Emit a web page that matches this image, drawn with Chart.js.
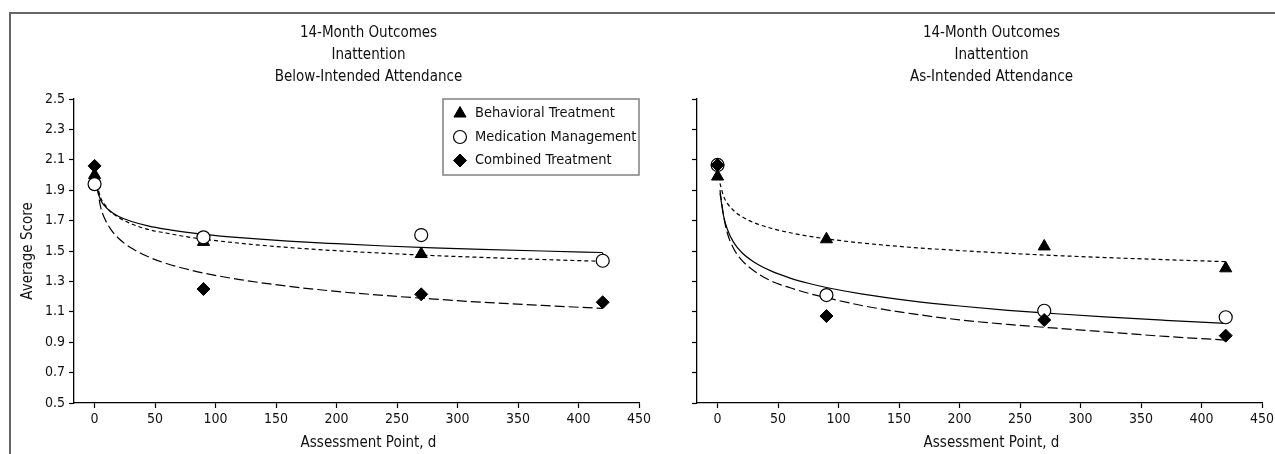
<!DOCTYPE html>
<html>
<head>
<meta charset="utf-8">
<title>14-Month Outcomes: Inattention</title>
<script src="https://cdn.jsdelivr.net/npm/chart.js@4"></script>
<style>
  html, body { margin: 0; padding: 0; background: #fff; }
  body { width: 1275px; height: 454px; position: relative; overflow: hidden; }
  .frame { position: absolute; left: 9px; top: 12px; width: 1300px; height: 470px;
           border-top: 2px solid #666; border-left: 2px solid #666; }
  canvas { position: absolute; top: 0; }
  #leftChart { left: 0; }
  #rightChart { left: 660px; }
</style>
</head>
<body>
<div class="frame"></div>
<canvas id="leftChart" width="660" height="454"></canvas>
<canvas id="rightChart" width="615" height="454"></canvas>
<script>
// Assessment points (days) and observed group means
const assessmentDays = [0, 90, 270, 420];

const belowBehavioral = [2.00, 1.56, 1.48, 1.44];
const belowMedication = [1.94, 1.59, 1.605, 1.436];
const belowCombined   = [2.06, 1.25, 1.215, 1.163];

const asBehavioral = [1.99, 1.577, 1.53, 1.386];
const asMedication = [2.066, 1.21, 1.107, 1.064];
const asCombined   = [2.066, 1.072, 1.046, 0.943];

// Fitted curves at these days
const curveDays = [2, 5, 8, 13, 20, 30, 45, 60, 75, 90, 120, 160, 200, 240, 280, 320, 370, 420];

const belowBehavioralFit = [1.94, 1.85, 1.81, 1.76, 1.72, 1.68, 1.64, 1.617, 1.595, 1.578, 1.551, 1.523, 1.502, 1.485, 1.47, 1.458, 1.444, 1.432];
const belowMedicationFit = [1.91, 1.835, 1.80, 1.761, 1.727, 1.696, 1.664, 1.642, 1.624, 1.61, 1.588, 1.565, 1.548, 1.533, 1.521, 1.511, 1.50, 1.49];
const belowCombinedFit   = [1.93, 1.79, 1.72, 1.647, 1.582, 1.521, 1.46, 1.416, 1.383, 1.355, 1.312, 1.268, 1.234, 1.207, 1.184, 1.163, 1.142, 1.122];

const asBehavioralFit = [1.945, 1.86, 1.815, 1.768, 1.726, 1.687, 1.648, 1.62, 1.598, 1.58, 1.552, 1.524, 1.503, 1.485, 1.47, 1.457, 1.443, 1.43];
const asMedicationFit = [1.88, 1.73, 1.645, 1.56, 1.49, 1.428, 1.366, 1.322, 1.288, 1.26, 1.216, 1.172, 1.138, 1.11, 1.087, 1.066, 1.044, 1.024];
const asCombinedFit   = [1.90, 1.73, 1.62, 1.52, 1.44, 1.37, 1.30, 1.258, 1.222, 1.193, 1.14, 1.088, 1.047, 1.017, 0.992, 0.968, 0.938, 0.914];

const dayTicks = [0, 50, 100, 150, 200, 250, 300, 350, 400, 450];
const scoreTicks = [0.5, 0.7, 0.9, 1.1, 1.3, 1.5, 1.7, 1.9, 2.1, 2.3, 2.5];
const groupNames = ["Behavioral Treatment", "Medication Management", "Combined Treatment"];
const leftTitle = ["14-Month Outcomes", "Inattention", "Below-Intended Attendance"];
const rightTitle = ["14-Month Outcomes", "Inattention", "As-Intended Attendance"];
const xTitle = "Assessment Point, d";
const yTitle = "Average Score";

const FONT = '"DejaVu Sans Condensed", "Liberation Sans Narrow", "Arial Narrow", sans-serif';
Chart.defaults.font.family = FONT;
Chart.defaults.color = "#111";

// Marker look for each treatment group
const groupStyles = [
  { pointStyle: "triangle", pointRadius: 7, backgroundColor: "#000", borderColor: "#000", borderWidth: 1, dash: [4, 3] },
  { pointStyle: "circle", pointRadius: 6.5, backgroundColor: "#fff", borderColor: "#000", borderWidth: 1.2, dash: [] },
  { pointStyle: "rectRot", pointRadius: 6.5, backgroundColor: "#000", borderColor: "#000", borderWidth: 1, dash: [10, 4] }
];

function toXY(xs, ys) {
  return xs.map((x, i) => ({ x: x, y: ys[i] }));
}

// Three title lines above the plot and the x-axis title below it
const panelText = {
  id: "panelText",
  afterDraw(chart, args, opts) {
    const { ctx, chartArea } = chart;
    const cx = (chartArea.left + chartArea.right) / 2 + opts.shift;
    ctx.save();
    ctx.fillStyle = "#111";
    ctx.font = "15px " + FONT;
    ctx.textAlign = "center";
    ctx.textBaseline = "middle";
    opts.lines.forEach((line, i) => ctx.fillText(line, cx, chartArea.top - 66 + i * 22));
    ctx.fillText(opts.xTitle, cx, chartArea.bottom + 40);
    ctx.restore();
  }
};

// Boxed legend in the upper right corner of the plot
const boxLegend = {
  id: "boxLegend",
  afterDraw(chart, args, opts) {
    if (!opts.show) return;
    const { ctx, chartArea } = chart;
    const w = 196, h = 76;
    const x = chartArea.right - w, y = chartArea.top;
    ctx.save();
    ctx.fillStyle = "#fff";
    ctx.fillRect(x, y, w, h);
    ctx.strokeStyle = "#808080";
    ctx.lineWidth = 1.5;
    ctx.strokeRect(x, y, w, h);
    ctx.font = "14.5px " + FONT;
    ctx.textBaseline = "middle";
    ctx.textAlign = "left";
    chart.data.datasets.filter(d => d.inLegend).forEach((d, i) => {
      const ly = y + 14.5 + i * 23.5;
      ctx.fillStyle = d.backgroundColor;
      ctx.strokeStyle = d.borderColor;
      ctx.lineWidth = d.borderWidth;
      Chart.helpers.drawPoint(ctx, { pointStyle: d.pointStyle, radius: d.pointRadius, rotation: 0, borderWidth: d.borderWidth }, x + 17, ly);
      ctx.fillStyle = "#111";
      ctx.fillText(d.label, x + 32, ly);
    });
    ctx.restore();
  }
};

function makePanel(canvasId, titleLines, means, fits, opt) {
  const datasets = [];
  means.forEach((values, g) => {
    const s = groupStyles[g];
    datasets.push({
      label: groupNames[g],
      data: toXY(assessmentDays, values),
      inLegend: true,
      showLine: false,
      pointStyle: s.pointStyle,
      pointRadius: s.pointRadius,
      backgroundColor: s.backgroundColor,
      borderColor: s.borderColor,
      borderWidth: s.borderWidth,
      order: 3 - g
    });
  });
  fits.forEach((values, g) => {
    datasets.push({
      label: groupNames[g] + " fit",
      data: toXY(curveDays, values),
      showLine: true,
      pointRadius: 0,
      borderColor: "#000",
      borderWidth: 1.2,
      borderDash: groupStyles[g].dash,
      cubicInterpolationMode: "monotone",
      fill: false,
      order: 10 + g
    });
  });

  return new Chart(document.getElementById(canvasId), {
    type: "scatter",
    data: { datasets: datasets },
    options: {
      responsive: false,
      animation: false,
      events: [],
      layout: { autoPadding: false, padding: { left: 0, right: opt.padRight, top: 99, bottom: 0 } },
      plugins: {
        legend: { display: false },
        tooltip: { enabled: false },
        panelText: { lines: titleLines, xTitle: xTitle, shift: 12 },
        boxLegend: { show: opt.legend }
      },
      scales: {
        x: {
          type: "linear",
          min: -17,
          max: 450,
          afterBuildTicks: s => { s.ticks = dayTicks.map(v => ({ value: v })); },
          afterFit: s => { s.height = 51; s.paddingLeft = 0; s.paddingRight = 0; },
          ticks: { font: { size: 14 }, color: "#111", padding: 3, maxRotation: 0, autoSkip: false },
          grid: { drawOnChartArea: false, drawTicks: true, tickLength: 5, tickColor: "#000", tickWidth: 1.2 },
          border: { display: true, color: "#000", width: 1.3 }
        },
        y: {
          min: 0.5,
          max: 2.5,
          afterBuildTicks: s => { s.ticks = scoreTicks.map(v => ({ value: v })); },
          afterFit: s => { s.width = opt.yWidth; s.paddingTop = 0; s.paddingBottom = 0; },
          ticks: { display: opt.yLabels, font: { size: 14 }, color: "#111", padding: 4, callback: v => v.toFixed(1) },
          grid: { drawOnChartArea: false, drawTicks: true, tickLength: 5, tickColor: "#000", tickWidth: 1.2 },
          border: { display: true, color: "#000", width: 1.3 },
          title: { display: opt.yLabels, text: yTitle, font: { size: 15 }, color: "#111", padding: { top: 19, bottom: 0 } }
        }
      }
    },
    plugins: [panelText, boxLegend]
  });
}

makePanel("leftChart", leftTitle,
  [belowBehavioral, belowMedication, belowCombined],
  [belowBehavioralFit, belowMedicationFit, belowCombinedFit],
  { padRight: 21, yWidth: 74, yLabels: true, legend: true });

makePanel("rightChart", rightTitle,
  [asBehavioral, asMedication, asCombined],
  [asBehavioralFit, asMedicationFit, asCombinedFit],
  { padRight: 13, yWidth: 37, yLabels: false, legend: false });
</script>
</body>
</html>
